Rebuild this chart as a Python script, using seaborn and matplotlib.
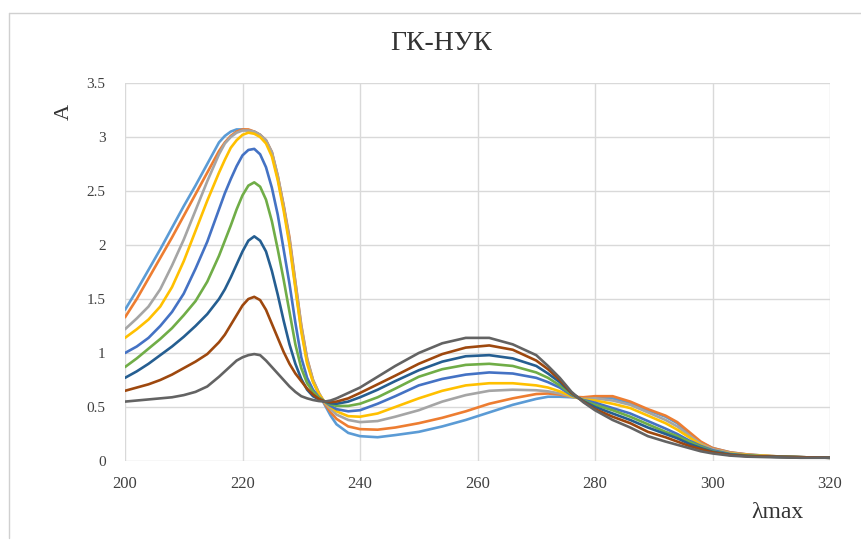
import numpy as np
import pandas as pd
import matplotlib
matplotlib.use("Agg")
import matplotlib.pyplot as plt
import seaborn as sns
from matplotlib.lines import Line2D

wavelength = [200, 202, 204, 206, 208, 210, 212, 214,
              216, 217, 218, 219, 220, 221, 222, 223, 224, 225, 226, 227, 228, 229, 230, 231, 232, 233,
              234, 235, 236,
              238, 240,
              243, 246, 250, 254, 258, 262, 266, 270,
              272, 274, 276, 278,
              280, 283, 286, 289, 292, 294, 296, 298, 300,
              303, 306, 310, 315, 320]

s1 = [1.40, 1.58, 1.77, 1.96, 2.16, 2.36, 2.55, 2.75,
      2.95, 3.01, 3.05, 3.07, 3.07, 3.06, 3.05, 3.02, 2.96, 2.85, 2.62, 2.35, 2.03, 1.62, 1.22, 0.92, 0.74, 0.62,
      0.52, 0.42, 0.34,
      0.26, 0.23,
      0.22, 0.24, 0.27, 0.32, 0.38, 0.45, 0.52, 0.575,
      0.595, 0.595, 0.59, 0.585,
      0.58, 0.58, 0.54, 0.47, 0.41, 0.35, 0.25, 0.17, 0.12,
      0.08, 0.06, 0.045, 0.035, 0.03]
s2 = [1.33, 1.50, 1.69, 1.88, 2.07, 2.27, 2.47, 2.67,
      2.87, 2.95, 3.01, 3.05, 3.07, 3.07, 3.05, 3.02, 2.97, 2.86, 2.64, 2.37, 2.07, 1.66, 1.26, 0.95, 0.75, 0.63,
      0.53, 0.45, 0.39,
      0.32, 0.295,
      0.29, 0.31, 0.35, 0.40, 0.46, 0.53, 0.58, 0.62,
      0.625, 0.615, 0.595, 0.59,
      0.60, 0.60, 0.55, 0.48, 0.42, 0.36, 0.27, 0.18, 0.12,
      0.08, 0.06, 0.045, 0.035, 0.03]
s3 = [1.22, 1.32, 1.43, 1.59, 1.81, 2.05, 2.32, 2.59,
      2.84, 2.94, 3.00, 3.04, 3.06, 3.06, 3.05, 3.02, 2.97, 2.86, 2.64, 2.36, 2.05, 1.65, 1.25, 0.94, 0.75, 0.63,
      0.54, 0.48, 0.43,
      0.38, 0.36,
      0.37, 0.41, 0.47, 0.55, 0.61, 0.65, 0.66, 0.655,
      0.645, 0.625, 0.595, 0.575,
      0.58, 0.56, 0.52, 0.45, 0.38, 0.32, 0.24, 0.16, 0.11,
      0.075, 0.055, 0.045, 0.035, 0.03]
s4 = [1.14, 1.22, 1.31, 1.43, 1.61, 1.85, 2.13, 2.41,
      2.67, 2.79, 2.90, 2.97, 3.02, 3.04, 3.03, 3.00, 2.94, 2.82, 2.60, 2.32, 2.00, 1.60, 1.20, 0.90, 0.73, 0.62,
      0.545, 0.50, 0.46,
      0.415, 0.41,
      0.44, 0.50, 0.58, 0.65, 0.70, 0.72, 0.72, 0.70,
      0.68, 0.645, 0.60, 0.57,
      0.56, 0.53, 0.49, 0.42, 0.35, 0.29, 0.22, 0.15, 0.10,
      0.07, 0.055, 0.045, 0.035, 0.03]
s5 = [1.00, 1.06, 1.14, 1.25, 1.38, 1.55, 1.78, 2.03,
      2.33, 2.48, 2.61, 2.73, 2.83, 2.88, 2.89, 2.84, 2.72, 2.53, 2.28, 1.96, 1.64, 1.28, 0.96, 0.77, 0.66, 0.59,
      0.55, 0.51, 0.48,
      0.46, 0.47,
      0.53, 0.60, 0.70, 0.76, 0.80, 0.82, 0.81, 0.77,
      0.73, 0.68, 0.61, 0.565,
      0.54, 0.49, 0.44, 0.37, 0.30, 0.25, 0.19, 0.14, 0.10,
      0.065, 0.05, 0.04, 0.035, 0.03]
s6 = [0.87, 0.95, 1.04, 1.13, 1.23, 1.35, 1.48, 1.66,
      1.90, 2.04, 2.18, 2.33, 2.46, 2.55, 2.58, 2.54, 2.42, 2.22, 1.96, 1.68, 1.38, 1.08, 0.86, 0.72, 0.64, 0.585,
      0.55, 0.525, 0.51,
      0.51, 0.53,
      0.59, 0.67, 0.78, 0.85, 0.89, 0.90, 0.88, 0.82,
      0.77, 0.70, 0.62, 0.56,
      0.52, 0.47, 0.41, 0.34, 0.27, 0.23, 0.18, 0.13, 0.09,
      0.06, 0.05, 0.04, 0.035, 0.03]
s7 = [0.77, 0.83, 0.90, 0.98, 1.06, 1.15, 1.25, 1.36,
      1.50, 1.59, 1.70, 1.82, 1.94, 2.04, 2.08, 2.04, 1.94, 1.76, 1.54, 1.30, 1.08, 0.90, 0.76, 0.66, 0.60, 0.57,
      0.55, 0.535, 0.53,
      0.55, 0.59,
      0.66, 0.74, 0.84, 0.92, 0.97, 0.98, 0.95, 0.88,
      0.81, 0.73, 0.63, 0.555,
      0.50, 0.44, 0.38, 0.31, 0.25, 0.21, 0.16, 0.12, 0.085,
      0.06, 0.045, 0.04, 0.035, 0.03]
s8 = [0.65, 0.68, 0.71, 0.75, 0.80, 0.86, 0.92, 0.99,
      1.10, 1.17, 1.26, 1.35, 1.44, 1.50, 1.52, 1.49, 1.40, 1.27, 1.14, 1.01, 0.90, 0.81, 0.74, 0.67, 0.615, 0.575,
      0.55, 0.545, 0.55,
      0.58, 0.63,
      0.71, 0.79, 0.90, 0.99, 1.05, 1.07, 1.03, 0.93,
      0.85, 0.75, 0.63, 0.55,
      0.48, 0.41, 0.35, 0.27, 0.22, 0.18, 0.14, 0.11, 0.08,
      0.055, 0.045, 0.04, 0.035, 0.03]
s9 = [0.55, 0.56, 0.57, 0.58, 0.59, 0.61, 0.64, 0.69,
      0.78, 0.83, 0.88, 0.93, 0.96, 0.98, 0.99, 0.98, 0.93, 0.87, 0.81, 0.75, 0.69, 0.64, 0.60, 0.58, 0.565, 0.555,
      0.55, 0.56, 0.58,
      0.63, 0.68,
      0.78, 0.88, 1.00, 1.09, 1.14, 1.14, 1.08, 0.98,
      0.88, 0.77, 0.64, 0.545,
      0.47, 0.38, 0.31, 0.23, 0.18, 0.15, 0.12, 0.09, 0.07,
      0.05, 0.04, 0.035, 0.03, 0.03]

series_names = ["1", "2", "3", "4", "5", "6", "7", "8", "9"]
series_values = [s1, s2, s3, s4, s5, s6, s7, s8, s9]
colors = ["#5B9BD5", "#ED7D31", "#A5A5A5", "#FFC000", "#4472C4",
          "#70AD47", "#255E91", "#9E480E", "#636363"]

x_ticks = [200, 220, 240, 260, 280, 300, 320]
y_ticks = [0, 0.5, 1, 1.5, 2, 2.5, 3, 3.5]
y_tick_labels = ["0", "0.5", "1", "1.5", "2", "2.5", "3", "3.5"]

rows = []
for name, vals in zip(series_names, series_values):
    assert len(vals) == len(wavelength), (name, len(vals))
    for w, v in zip(wavelength, vals):
        rows.append({"wl": w, "A": v, "series": name})
df = pd.DataFrame(rows)

sns.set_theme(style="white")
plt.rcParams["font.family"] = ["Liberation Serif", "DejaVu Serif"]

W, H = 861, 541
fig = plt.figure(figsize=(W / 100, H / 100), dpi=100)
ax = fig.add_axes([125 / W, 1 - 461 / H, (830 - 125) / W, (461 - 83) / H])

sns.lineplot(data=df, x="wl", y="A", hue="series", hue_order=series_names,
             palette=colors, sort=False, linewidth=1.9, legend=False, ax=ax)
for ln in ax.lines:
    ln.set_solid_joinstyle("round")
    ln.set_solid_capstyle("round")

ax.set_xlim(200, 320)
ax.set_ylim(0, 3.5)
ax.set_xticks(x_ticks)
ax.set_xticklabels([str(t) for t in x_ticks], fontsize=12, color="#404040")
ax.set_yticks(y_ticks)
ax.set_yticklabels(y_tick_labels, fontsize=11, color="#404040")
ax.grid(True, color="#D9D9D9", linewidth=1.0)
ax.set_axisbelow(True)
for sp in ax.spines.values():
    sp.set_visible(False)
ax.tick_params(axis="x", length=0, pad=11)
ax.tick_params(axis="y", length=0, pad=14)
ax.set_xlabel("")
ax.set_ylabel("")

fig.text(441 / W, 1 - 44 / H, "ГК-НУК", ha="center", va="center", fontsize=20, color="#333333")
fig.text(64 / W, 1 - 112 / H, "A", ha="center", va="center", rotation=90, fontsize=16, color="#333333")
fig.text(777 / W, 1 - 512 / H, "λmax", ha="center", va="center", fontsize=17, color="#333333")

# chart-area border (top and left edges visible in the reference)
fig.add_artist(Line2D([9 / W, 1.0], [1 - 13 / H, 1 - 13 / H], transform=fig.transFigure,
                      color="#D0D0D0", linewidth=1.0))
fig.add_artist(Line2D([9 / W, 9 / W], [1 - 13 / H, 1 - 538 / H], transform=fig.transFigure,
                      color="#D0D0D0", linewidth=1.0))

fig.savefig("out.png", dpi=100)
